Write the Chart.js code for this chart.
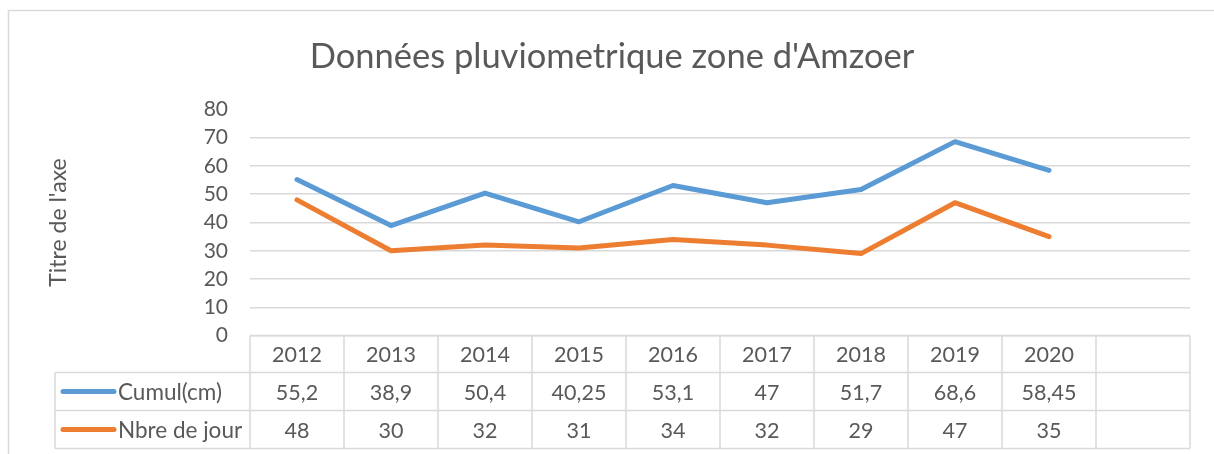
<!DOCTYPE html>
<html>
<head>
<meta charset="utf-8">
<script src="https://cdn.jsdelivr.net/npm/chart.js@4/dist/chart.umd.min.js"></script>
<style>
  html, body { margin: 0; padding: 0; background: #ffffff; }
  #wrap { position: relative; width: 1214px; height: 454px; }
</style>
</head>
<body>
<div id="wrap"><canvas id="c" width="1214" height="454"></canvas></div>
<script>
const categories = ['2012', '2013', '2014', '2015', '2016', '2017', '2018', '2019', '2020', ''];
const cumulCm = [55.2, 38.9, 50.4, 40.25, 53.1, 47, 51.7, 68.6, 58.45, null];
const nbreJour = [48, 30, 32, 31, 34, 32, 29, 47, 35, null];
const seriesNames = ['Cumul(cm)', 'Nbre de jour'];
const yTicks = [0, 10, 20, 30, 40, 50, 60, 70, 80];

const TXT = '#595959';
const GRID = '#D9D9D9';
const FONT = 'Lato, "Open Sans", sans-serif';
const BLUE = '#5B9BD5';
const ORANGE = '#ED7D31';

function fmt(v) {
  if (v === null || v === undefined) return '';
  return String(v).replace('.', ',');
}

const frame = {
  id: 'frame',
  beforeDraw(chart) {
    const ctx = chart.ctx;
    ctx.save();
    ctx.strokeStyle = GRID;
    ctx.lineWidth = 1.5;
    ctx.beginPath();
    ctx.moveTo(8.5, 460);
    ctx.lineTo(8.5, 10.5);
    ctx.lineTo(1220, 10.5);
    ctx.stroke();
    ctx.restore();
  }
};

const dataTable = {
  id: 'dataTable',
  afterDraw(chart) {
    const ctx = chart.ctx;
    const xs = chart.scales.x;
    const area = chart.chartArea;
    const n = categories.length;
    const colW = (area.right - area.left) / n;
    const top = area.bottom;
    const rows = [top, top + 37, top + 75, top + 113];
    const legendLeft = 55;
    ctx.save();
    ctx.strokeStyle = GRID;
    ctx.lineWidth = 1.5;
    ctx.beginPath();
    ctx.moveTo(area.left, rows[0]); ctx.lineTo(area.right, rows[0]);
    for (let r = 1; r < rows.length; r++) {
      ctx.moveTo(legendLeft, rows[r]); ctx.lineTo(area.right, rows[r]);
    }
    for (let i = 0; i <= n; i++) {
      const x = area.left + i * colW;
      ctx.moveTo(x, rows[0]); ctx.lineTo(x, rows[3]);
    }
    ctx.moveTo(legendLeft, rows[1]); ctx.lineTo(legendLeft, rows[3]);
    ctx.stroke();

    ctx.fillStyle = TXT;
    ctx.font = '21.5px ' + FONT;
    ctx.textAlign = 'center';
    ctx.textBaseline = 'middle';
    const series = [cumulCm, nbreJour];
    for (let i = 0; i < n; i++) {
      const cx = xs.getPixelForValue(i);
      ctx.fillText(categories[i], cx, (rows[0] + rows[1]) / 2 + 1);
      for (let s = 0; s < series.length; s++) {
        ctx.fillText(fmt(series[s][i]), cx, (rows[s + 1] + rows[s + 2]) / 2 + 1);
      }
    }
    const colors = [BLUE, ORANGE];
    ctx.textAlign = 'left';
    ctx.font = '22.5px ' + FONT;
    for (let s = 0; s < seriesNames.length; s++) {
      const cy = (rows[s + 1] + rows[s + 2]) / 2;
      ctx.strokeStyle = colors[s];
      ctx.lineWidth = 5;
      ctx.lineCap = 'round';
      ctx.beginPath();
      ctx.moveTo(63, cy); ctx.lineTo(114, cy);
      ctx.stroke();
      ctx.fillText(seriesNames[s], 118, cy + 1);
    }
    ctx.restore();
  }
};

new Chart(document.getElementById('c'), {
  type: 'line',
  data: {
    labels: categories,
    datasets: [
      { label: seriesNames[0], data: cumulCm, borderColor: BLUE, backgroundColor: BLUE,
        borderWidth: 5, pointRadius: 0, tension: 0, borderCapStyle: 'round', borderJoinStyle: 'round' },
      { label: seriesNames[1], data: nbreJour, borderColor: ORANGE, backgroundColor: ORANGE,
        borderWidth: 5, pointRadius: 0, tension: 0, borderCapStyle: 'round', borderJoinStyle: 'round' }
    ]
  },
  options: {
    responsive: false,
    animation: false,
    events: [],
    layout: { padding: { left: 10, right: 0, top: 0, bottom: 118.4 } },
    plugins: {
      legend: { display: false },
      tooltip: { enabled: false },
      title: {
        display: true,
        text: "Données pluviometrique zone d'Amzoer",
        color: TXT,
        font: { family: FONT, size: 34.5, weight: 'normal' },
        padding: { top: 36.3, bottom: 31.7 }
      }
    },
    scales: {
      x: {
        type: 'category',
        display: false,
        offset: true
      },
      y: {
        min: 0, max: 80,
        afterBuildTicks(scale) { scale.ticks = yTicks.map(v => ({ value: v })); },
        afterFit(scale) { scale.width = 240; },
        border: { display: false },
        grid: {
          drawTicks: false,
          lineWidth: 1.5,
          color: (c) => (c.tick && c.tick.value === 80) ? 'rgba(0,0,0,0)' : GRID
        },
        ticks: {
          color: TXT,
          padding: 22,
          font: { family: FONT, size: 21 }
        },
        title: {
          display: true,
          text: "Titre de l'axe",
          color: TXT,
          font: { family: FONT, size: 23 },
          padding: { top: 35.2, bottom: 0 }
        }
      },
      yRight: {
        position: 'right',
        display: true,
        afterFit(scale) { scale.width = 24; },
        border: { display: false },
        grid: { display: false },
        ticks: { display: false }
      }
    }
  },
  plugins: [frame, dataTable]
});
</script>
</body>
</html>
